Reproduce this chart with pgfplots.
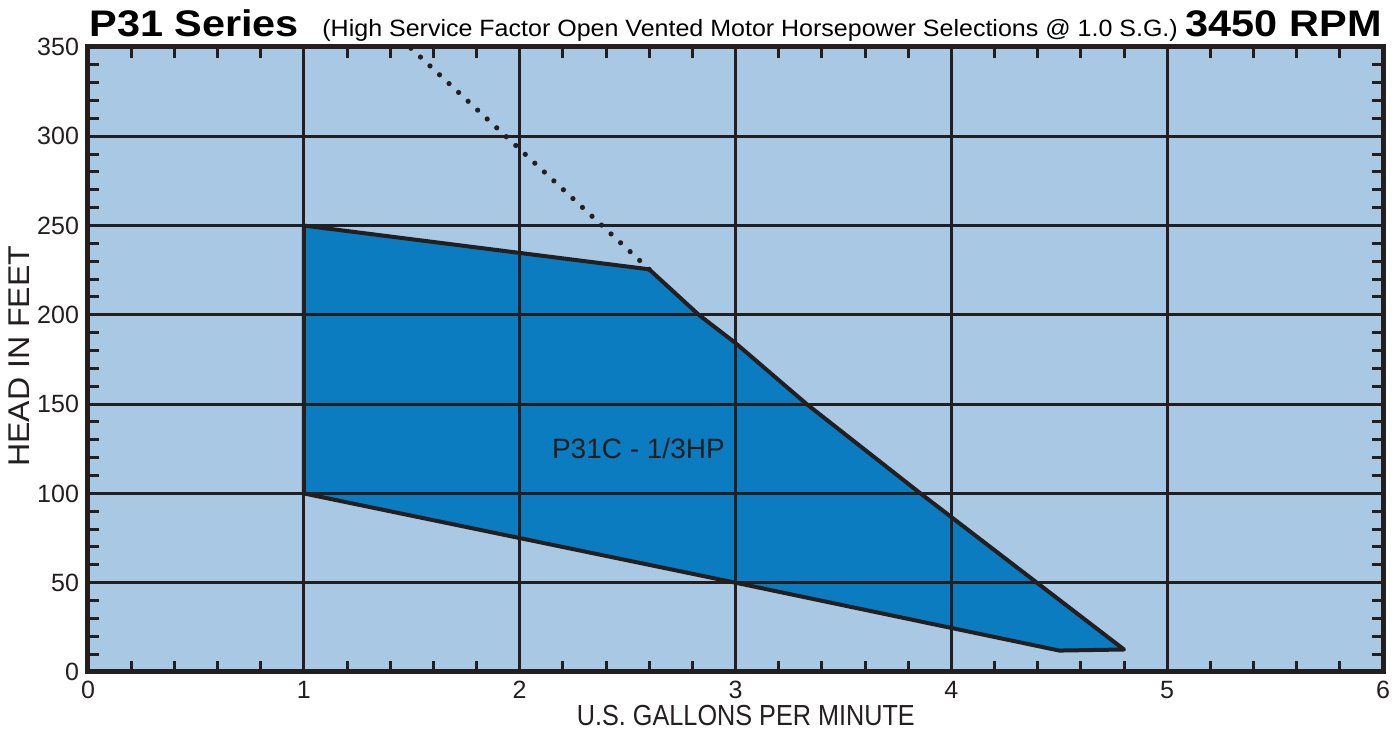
\documentclass[border=0pt]{standalone}
\usepackage{fontspec}
\setmainfont{Liberation Sans}
\newfontfamily\titlefont[FakeStretch=1.12]{Liberation Sans}
\newfontfamily\subfont[FakeStretch=1.06]{Liberation Sans}
\newfontfamily\xlabfont[FakeStretch=0.87]{Liberation Sans}
\newfontfamily\ylabfont[FakeStretch=1.07]{Liberation Sans}
\usepackage{pgfplots}
\pgfplotsset{compat=1.18}
\definecolor{bgblue}{HTML}{A8C8E4}
\definecolor{fillblue}{HTML}{0B7CBF}
\definecolor{ink}{HTML}{231F20}
\begin{document}
\begin{tikzpicture}
\useasboundingbox (-44pt,-29.5pt) rectangle (656pt,336pt);
\begin{axis}[
  scale only axis, width=647.5pt, height=312.5pt,
  at={(0pt,0pt)}, anchor=south west,
  xmin=0, xmax=6, ymin=0, ymax=350,
  xtick={0,1,...,6}, ytick={0,50,...,350},
  minor x tick num=4, minor y tick num=4,
  grid=major, major grid style={ink, line width=1.4pt},
  axis line style={ink, line width=2.5pt},
  tick style={ink, line width=1.5pt},
  minor tick length=5.5pt, major tick length=0pt,
  tick align=inside,
  xtick pos=both, ytick pos=both,
  axis background/.style={fill=bgblue},
  axis on top,
  /pgf/number format/assume math mode=true,
  ticklabel style={font=\fontsize{12.5}{14}\selectfont, text=ink},
  xticklabel style={yshift=-1pt},
  yticklabel style={xshift=-1pt},
  xlabel={U.S. GALLONS PER MINUTE},
  ylabel={HEAD IN FEET},
  xlabel style={font=\xlabfont\fontsize{14.5}{16}\selectfont, text=ink, at={(axis description cs:0.508,-0.0696)}, anchor=center},
  ylabel style={font=\ylabfont\fontsize{15}{16}\selectfont, text=ink, at={(axis description cs:-0.0533,0.505)}, anchor=center},
]
\addplot[fill=fillblue, draw=ink, line width=2pt, line join=round] coordinates {
  (1,250) (2.6,225.5) (2.83,200) (3,184.2) (3.33,150) (3.857,100) (4.8,12.6)
  (4.5,12) (3,50) (1,100)
} -- cycle;
\addplot[ink, line width=2.6pt, line cap=round, dash pattern=on 0pt off 6.5pt] coordinates {
  (2.6,225.5) (1.49,350)
};
\node[font=\fontsize{14}{16}\selectfont, text=ink] at (axis cs:2.55,125) {P31C - 1/3HP};
\end{axis}
\node[anchor=base west, inner sep=0pt, font=\titlefont\bfseries\fontsize{18.5}{20}\selectfont] at (0.5pt,317.5pt) {P31 Series};
\node[anchor=base west, inner sep=0pt, font=\subfont\fontsize{11.8}{13}\selectfont] at (117pt,317.5pt) {(High Service Factor Open Vented Motor Horsepower Selections @ 1.0 S.G.)};
\node[anchor=base east, inner sep=0pt, font=\titlefont\bfseries\fontsize{18.5}{20}\selectfont] at (647pt,317.5pt) {3450 RPM};
\end{tikzpicture}
\end{document}
